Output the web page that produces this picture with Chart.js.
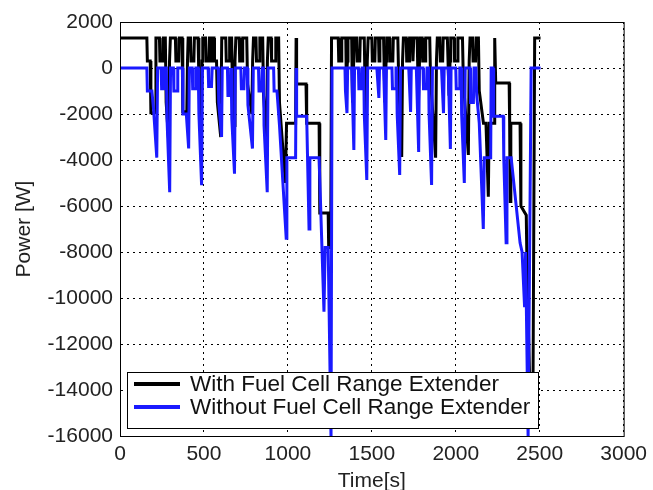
<!DOCTYPE html>
<html>
<head>
<meta charset="utf-8">
<script src="https://cdn.jsdelivr.net/npm/chart.js@4.4.0/dist/chart.umd.min.js"></script>
<style>
  body { margin: 0; background: #fff; }
  #wrap { position: relative; width: 653px; height: 490px; }
  #legend {
    position: absolute; left: 127px; top: 372px; width: 410px; height: 55px;
    border: 1px solid #000; background: #fff;
    font-family: "Liberation Sans", Arial, sans-serif; font-size: 22.5px; color: #111;
  }
  .row { position: absolute; left: 0; height: 24px; line-height: 24px; white-space: nowrap; }
  .swatch { position: absolute; left: 6px; top: 10px; width: 46px; height: 4px; }
  .label { position: absolute; left: 62px; }
</style>
</head>
<body>
<div id="wrap">
  <canvas id="chart" width="653" height="490"></canvas>
  <div id="legend">
    <div class="row" style="top:-1px"><span class="swatch" style="background:#000"></span><span class="label">With Fuel Cell Range Extender</span></div>
    <div class="row" style="top:22px"><span class="swatch" style="background:#1a1aff"></span><span class="label">Without Fuel Cell Range Extender</span></div>
  </div>
</div>
<script>
// values (time in s, power in W)
const blueTime = [
  0, 160, 163, 190, 200, 219, 224,
  245, 248, 258, 262, 276, 280, 296, 301,
  318, 321, 340, 344, 372, 375, 395, 409, 413,
  430, 433, 448, 452, 466, 470, 486, 491,
  525, 528, 545, 549, 585, 588, 605, 609,
  640, 643, 658, 662, 666, 682, 687,
  720, 723, 738, 742, 758, 762, 789, 794,
  825, 828, 843, 847, 855, 858, 877, 882,
  915, 918, 935, 950, 990, 994, 1046, 1049, 1052, 1112, 1126, 1131,
  1186, 1215, 1222, 1240, 1257, 1263,
  1340, 1343, 1352, 1356, 1380, 1393, 1397,
  1420, 1423, 1438, 1442, 1452, 1455, 1470, 1475,
  1530, 1542, 1546, 1570, 1583, 1587,
  1620, 1623, 1640, 1644, 1648, 1651, 1666, 1671,
  1720, 1731, 1735, 1765, 1779, 1783,
  1805, 1808, 1825, 1829, 1838, 1841, 1856, 1861,
  1915, 1927, 1931, 1955, 1968, 1972,
  2000, 2003, 2020, 2024, 2032, 2035, 2051, 2056,
  2085, 2088, 2105, 2109, 2120, 2125, 2140, 2164, 2170, 2208, 2211,
  2222, 2226, 2283, 2286, 2300, 2305, 2330, 2383, 2395, 2410, 2416, 2431, 2449, 2505
];
const bluePower = [
  0, 0, -1000, -1000, -1800, -3900, 0,
  0, -900, -900, 0, 0, -2200, -5400, 0,
  0, -1000, -1000, 0, 0, -2000, -2000, -3500, 0,
  0, -900, -900, 0, 0, -2000, -5100, 0,
  0, -800, -800, 0, 0, -1500, -3000, 0,
  0, -1200, -1200, 0, -2200, -4600, 0,
  0, -900, -900, 0, 0, -1600, -3500, 0,
  0, -1000, -1000, 0, 0, -2500, -5400, 0,
  0, -1000, -1000, -2500, -7400, -3900, -3900, 0, -2100, -2100, -7000, -3900,
  -3900, -10600, -7800, -7800, -16100, 0,
  0, -1000, -1960, 0, 0, -3560, 0,
  0, -900, -900, 0, 0, -2000, -4870, 0,
  0, -1300, 0, 0, -3130, 0,
  0, -900, -900, 0, 0, -2000, -4650, 0,
  0, -1910, 0, 0, -3650, 0,
  0, -900, -900, 0, 0, -2000, -5090, 0,
  0, -1960, 0, 0, -3520, 0,
  0, -900, -900, 0, 0, -2000, -5000, 0,
  0, -1500, -1500, 0, 0, -1200, -2400, -7000, -3900, -3900, 0,
  0, -2100, -2100, -3900, -7600, -3900, -3900, -7600, -8000, -10400, -8000, -16100, 0, 0
];

const blackTime = [
  0, 160, 163, 180, 184, 210, 214,
  235, 238, 255, 258, 270, 275, 290, 295, 300,
  330, 333, 350, 353, 370, 374, 398, 402, 406,
  420, 423, 440, 443, 465, 470, 484, 489, 493,
  510, 513, 530, 533, 543, 546, 552, 555, 560, 563, 575, 580, 600, 606,
  630, 633, 650, 653, 665, 670, 680, 685, 690,
  710, 713, 728, 731, 755, 760, 785, 790, 795,
  810, 813, 830, 833, 850, 855, 873, 878, 883,
  900, 903, 925, 928, 945, 950, 985, 992, 1046, 1049, 1052, 1108, 1112,
  1186, 1190, 1240, 1243, 1255, 1260,
  1300, 1303, 1318, 1321, 1345, 1348, 1355, 1358,
  1380, 1385, 1392, 1396, 1410, 1413, 1428, 1431,
  1455, 1460, 1468, 1473, 1478, 1500, 1503, 1518, 1521,
  1540, 1543, 1548, 1570, 1578, 1585, 1589,
  1605, 1608, 1625, 1628, 1655, 1660, 1678, 1683, 1688,
  1705, 1708, 1722, 1725, 1740, 1745, 1750,
  1770, 1778, 1784, 1788, 1800, 1803, 1818, 1821,
  1845, 1850, 1880, 1885, 1890, 1905, 1908, 1922, 1925,
  1950, 1960, 1966, 1970, 1990, 1993, 2010, 2013,
  2040, 2045, 2075, 2080, 2085, 2100, 2103, 2118, 2121,
  2135, 2140, 2165, 2180, 2194, 2199, 2229, 2232, 2238,
  2318, 2321, 2324, 2328, 2383, 2388, 2420, 2425, 2440, 2460, 2470, 2505
];
const blackPower = [
  1300, 1300, 300, 300, -1950, -1950, 1300,
  1300, 300, 300, 1300, 1300, -1500, -3200, 300, 1300,
  1300, 300, 300, 1300, 1300, -1900, -1900, 300, 1300,
  1300, 300, 300, 1300, 1300, -500, -2500, 300, 1300,
  1300, 300, 300, 1300, 1300, 300, 300, 1300, 1300, 300, 300, -1500, -3000, 1300,
  1300, 300, 300, 1300, 1300, -1000, -2500, 300, 1300,
  1300, 300, 300, 1300, 1300, -700, -2000, 300, 1300,
  1300, 300, 300, 1300, 1300, -1200, -3000, 300, 1300,
  1300, 300, 300, 1300, 1300, -1500, -5000, -2400, -2400, 1300, -700, -700, -2400,
  -2400, -6300, -6300, -7800, -7800, 1300,
  1300, 300, 300, 1300, 1300, -500, 300, 1300,
  1300, -1500, 300, 1300, 1300, 300, 300, 1300,
  1300, -1000, -2000, 300, 1300, 1300, 300, 300, 1300,
  1300, 300, 1300, 1300, -1500, 300, 1300,
  1300, 300, 300, 1300, 1300, -500, -3870, 300, 1300,
  1300, 300, 300, 1300, 1300, 300, 1300,
  1300, -1500, 300, 1300, 1300, 300, 300, 1300,
  1300, -500, -3900, 300, 1300, 1300, 300, 300, 1300,
  1300, -1200, 300, 1300, 1300, 300, 300, 1300,
  1300, -500, -3780, 300, 1300, 1300, 300, 300, 1300,
  1300, -1000, -2400, -2400, -5600, -2400, -2400, 1300, -650,
  -650, -2400, -5800, -2400, -2400, -6000, -6400, -9000, -13500, -14000, 1300, 1300
];

const xTicks = [0, 500, 1000, 1500, 2000, 2500, 3000];
const yTicks = [2000, 0, -2000, -4000, -6000, -8000, -10000, -12000, -14000, -16000];

const toPoints = (ts, ps) => ts.map((t, i) => ({ x: t, y: ps[i] }));

// plain black box round the plot area
const frame = {
  id: "frame",
  afterDatasetsDraw(chart) {
    const { ctx, chartArea: a } = chart;
    ctx.save();
    ctx.strokeStyle = "#000";
    ctx.lineWidth = 1;
    ctx.strokeRect(a.left + 0.5, a.top + 0.5, a.right - a.left, a.bottom - a.top);
    ctx.restore();
  }
};

const font = { family: "'Liberation Sans', Arial, sans-serif", size: 21 };

new Chart(document.getElementById("chart"), {
  type: "line",
  data: {
    datasets: [
      {
        label: "With Fuel Cell Range Extender",
        data: toPoints(blackTime, blackPower),
        borderColor: "#000",
        borderWidth: 3,
        pointRadius: 0,
        tension: 0,
        order: 1
      },
      {
        label: "Without Fuel Cell Range Extender",
        data: toPoints(blueTime, bluePower),
        borderColor: "#1a1aff",
        borderWidth: 3,
        pointRadius: 0,
        tension: 0,
        order: 0
      }
    ]
  },
  options: {
    responsive: false,
    animation: false,
    layout: { padding: { top: 22, right: 27, left: 0, bottom: 0 } },
    plugins: { legend: { display: false }, tooltip: { enabled: false } },
    scales: {
      x: {
        type: "linear",
        min: 0,
        max: 3000,
        afterFit: (s) => { s.height = 54; },
        afterBuildTicks: (s) => { s.ticks = xTicks.map((v) => ({ value: v })); },
        ticks: { font, color: "#222", padding: 6, maxRotation: 0, callback: (v) => String(v) },
        grid: { color: "#000", lineWidth: 1, drawTicks: false },
        border: { color: "#000", dash: [2, 4] },
        title: { display: true, text: "Time[s]", font: { ...font, size: 21 }, color: "#222", padding: { top: 0, bottom: -4 } }
      },
      y: {
        min: -16000,
        max: 2000,
        afterFit: (s) => { s.width = 120; },
        afterBuildTicks: (s) => { s.ticks = yTicks.map((v) => ({ value: v })); },
        ticks: { font, color: "#222", padding: 7, callback: (v) => String(v) },
        grid: { color: "#000", lineWidth: 1, drawTicks: false },
        border: { color: "#000", dash: [2, 4] },
        title: { display: true, text: "Power [W]", font: { ...font, size: 21 }, color: "#222", padding: { top: 12, bottom: 0 } }
      }
    }
  },
  plugins: [frame]
});
</script>
</body>
</html>
